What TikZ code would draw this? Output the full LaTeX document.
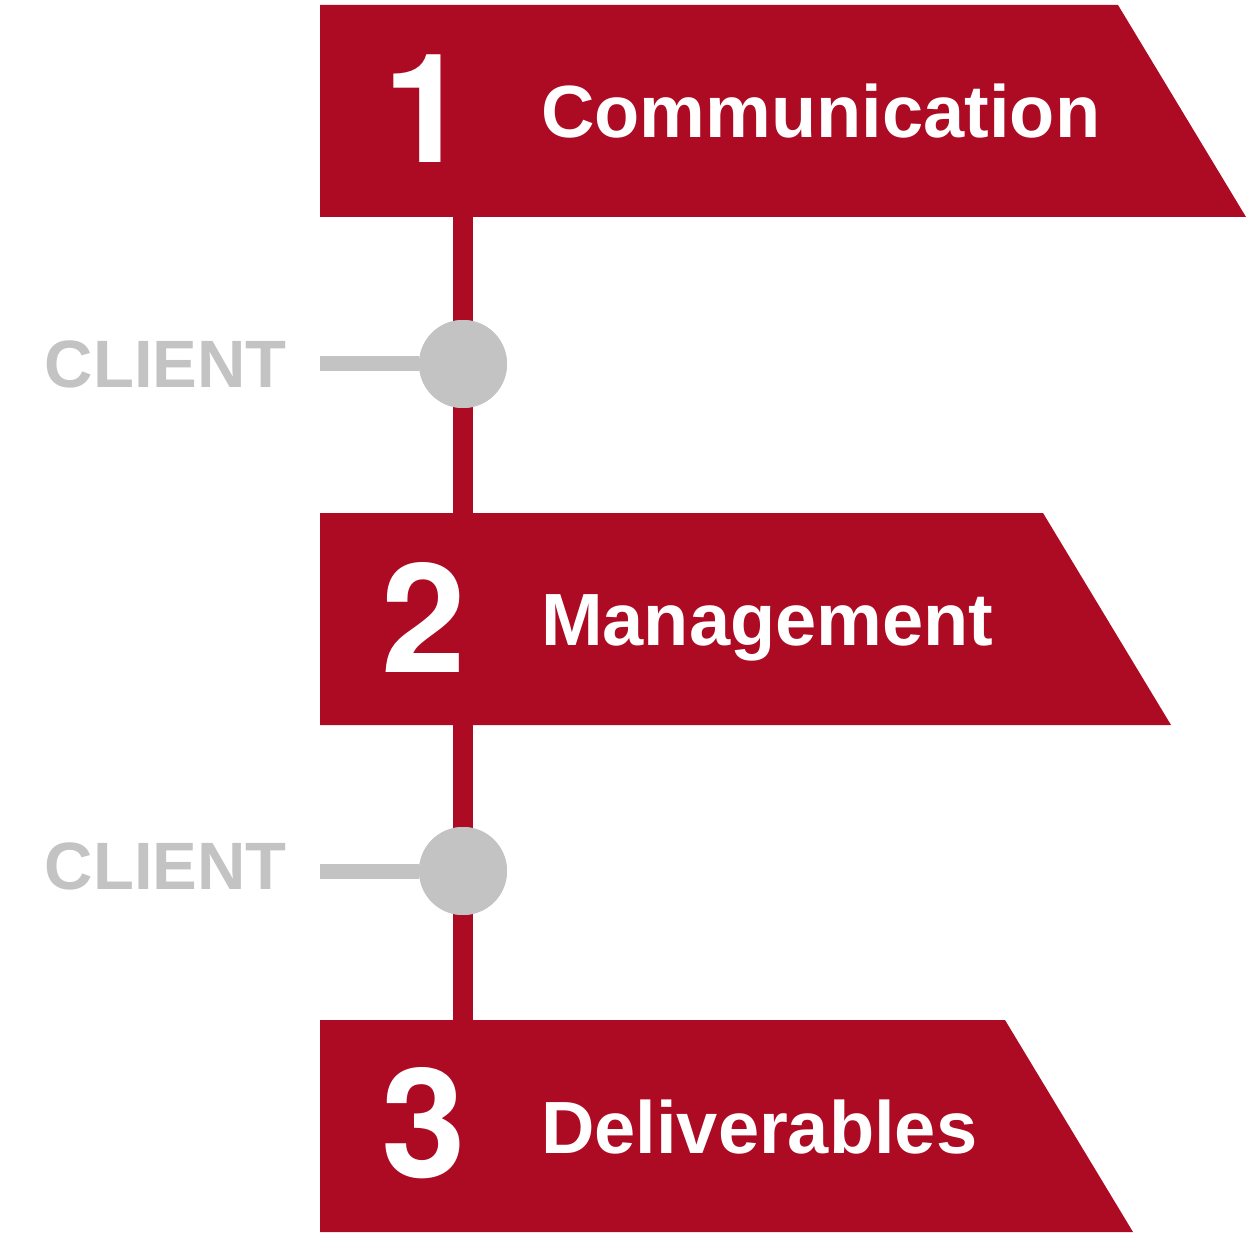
\documentclass[tikz,border=0pt]{standalone}
\usepackage{fontspec}
\setmainfont{Liberation Sans}
\newfontfamily\digitfont{TeX Gyre Heros}
\definecolor{bannerred}{HTML}{AD0A23}
\definecolor{clientgrey}{HTML}{C3C3C3}
\begin{document}
\begin{tikzpicture}[x=1pt,y=-1pt,
  banner/.style={fill=bannerred,draw=none},
  numtext/.style={text=white,font=\digitfont\fontsize{152}{152}\selectfont\bfseries,inner sep=0pt,anchor=base},
  titletext/.style={text=white,font=\fontsize{74}{74}\selectfont\bfseries,inner sep=0pt,anchor=base west},
  clienttext/.style={text=clientgrey,font=\fontsize{67}{67}\selectfont\bfseries,inner sep=0pt,anchor=base east},
  spine/.style={draw=bannerred,line width=20pt},
  stub/.style={draw=clientgrey,line width=15pt},
  dot/.style={circle,fill=clientgrey,minimum size=88pt,inner sep=0pt}]
\useasboundingbox (0,0) rectangle (1259,1238);
% coordinates
\coordinate (b1s) at (463,217);
\coordinate (b2n) at (463,513);
\coordinate (b2s) at (463,725);
\coordinate (b3n) at (463,1020);
\coordinate (g1) at (320,364);
\coordinate (g2) at (320,871);
% spine
\path[spine] (b1s) -- (b2n);
\path[spine] (b2s) -- (b3n);
% client stubs and dots
\node[dot] (c1) at (463,364) {};
\node[dot] (c2) at (463,871) {};
\path[stub] (g1) -- (c1.west);
\path[stub] (g2) -- (c2.west);
\node[dot] at (c1) {};
\node[dot] at (c2) {};
\node[clienttext] (cl1) at (287,388) {CLIENT};
\node[clienttext] (cl2) at (287,889) {CLIENT};
% banners
\fill[banner] (320,5) -- (1118,5) -- (1246,217) -- (320,217) -- cycle;
\fill[banner] (320,513) -- (1043,513) -- (1171,725) -- (320,725) -- cycle;
\fill[banner] (320,1020) -- (1005,1020) -- (1133,1232) -- (320,1232) -- cycle;
% texts
\node[numtext] (n1) at (426,163) {1};
\node[titletext] (t1) at (541,138) {Communication};
\node[numtext] (n2) at (424,672) {2};
\node[titletext] (t2) at (541,645) {Management};
\node[numtext] (n3) at (424,1177) {3};
\node[titletext] (t3) at (541,1153) {Deliverables};
\end{tikzpicture}
\end{document}
